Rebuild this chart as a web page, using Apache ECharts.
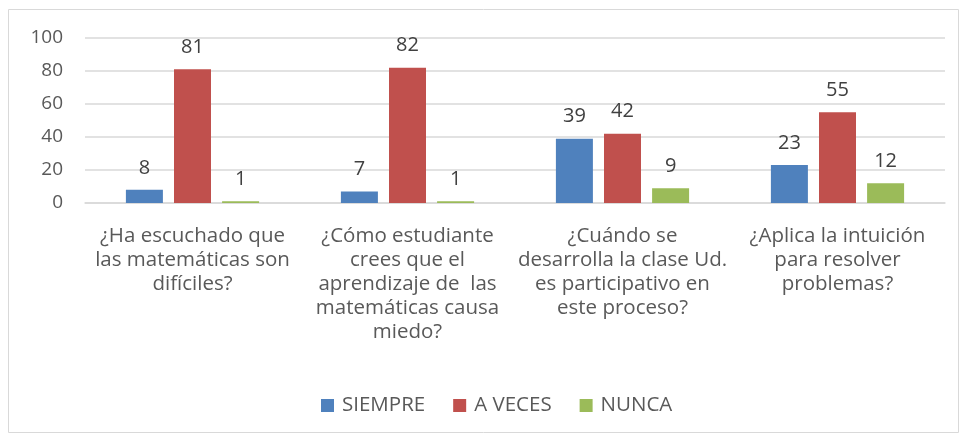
<!DOCTYPE html>
<html>
<head>
<meta charset="utf-8">
<script src="https://cdn.jsdelivr.net/npm/echarts@6/dist/echarts.min.js"></script>
<style>
html, body { margin: 0; padding: 0; background: #fff; }
#main { width: 960px; height: 436px; }
</style>
</head>
<body>
<div id="main"></div>
<script>
// categorias (preguntas)
var categories = [
    '¿Ha escuchado que\nlas matemáticas son\ndifíciles?',
    '¿Cómo estudiante\ncrees que el\naprendizaje de  las\nmatemáticas causa\nmiedo?',
    '¿Cuándo se\ndesarrolla la clase Ud.\nes participativo en\neste proceso?',
    '¿Aplica la intuición\npara resolver\nproblemas?'
];
var siempre = [8, 7, 39, 23];
var aVeces = [81, 82, 42, 55];
var nunca = [1, 1, 9, 12];
var yTicks = [0, 20, 40, 60, 80, 100];

var font = '"Open Sans", Lato, sans-serif';
var textColor = '#595959';

function barSerie(name, data, color) {
    return {
        name: name,
        type: 'bar',
        data: data,
        barWidth: 37,
        barGap: '30%',
        itemStyle: { color: color },
        label: {
            show: true,
            position: 'top',
            distance: 12,
            color: '#404040',
            fontSize: 20,
            fontFamily: font
        }
    };
}

var myChart = echarts.init(document.getElementById('main'));
myChart.setOption({
    animation: false,
    textStyle: { fontFamily: font },
    graphic: [{
        type: 'rect',
        shape: { x: 8.5, y: 9.5, width: 950, height: 423 },
        style: { fill: 'none', stroke: '#d9d9d9', lineWidth: 1 },
        silent: true
    }],
    grid: { left: 85, right: 15, top: 38, bottom: 233 },
    legend: {
        bottom: 15,
        left: 316,
        itemWidth: 13,
        itemHeight: 13,
        itemGap: 28,
        icon: 'rect',
        textStyle: { color: textColor, fontSize: 20.5, fontFamily: font, padding: [0, 0, 0, 3] }
    },
    xAxis: {
        type: 'category',
        data: categories,
        axisTick: { show: false },
        axisLine: { lineStyle: { color: '#d9d9d9', width: 1.5 } },
        axisLabel: {
            interval: 0,
            margin: 21,
            color: textColor,
            fontSize: 20.5,
            lineHeight: 24,
            fontFamily: font
        }
    },
    yAxis: {
        type: 'value',
        min: yTicks[0],
        max: yTicks[yTicks.length - 1],
        interval: 20,
        axisLine: { show: false },
        axisTick: { show: false },
        axisLabel: { color: textColor, fontSize: 19, margin: 22, fontFamily: font },
        splitLine: { lineStyle: { color: '#d9d9d9', width: 1.5 } }
    },
    series: [
        barSerie('SIEMPRE', siempre, '#4F81BD'),
        barSerie('A VECES', aVeces, '#C0504D'),
        barSerie('NUNCA', nunca, '#9BBB59')
    ]
});
</script>
</body>
</html>
